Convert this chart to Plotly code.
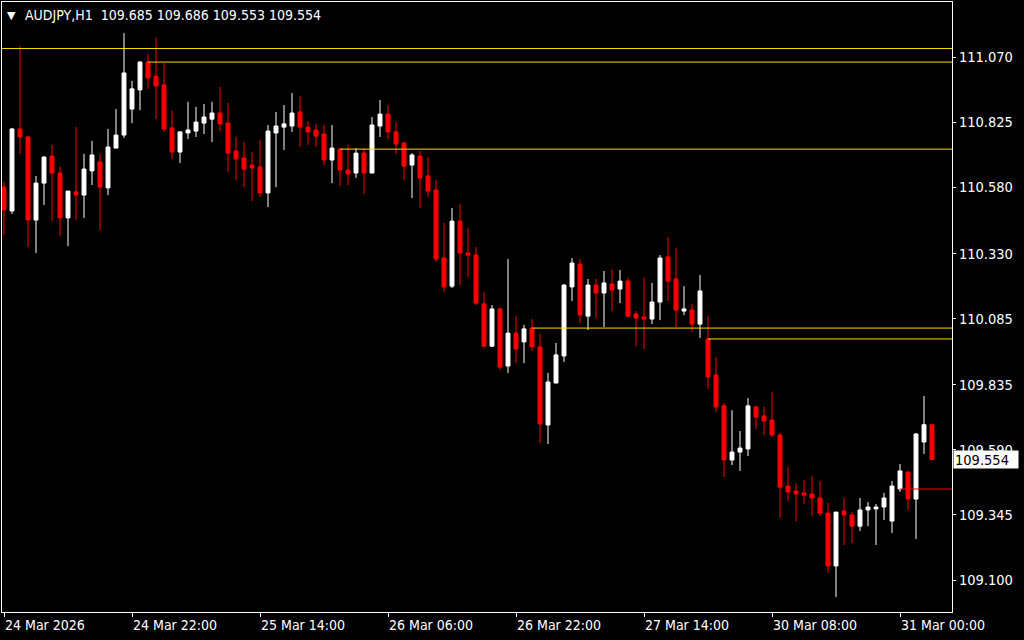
import plotly.graph_objects as go

# ---- data (AUDJPY H1), bar index 0 = 24 Mar 2026 06:00 ----
opens = [110.580, 110.490, 110.799, 110.769, 110.456, 110.595, 110.697, 110.633, 110.464, 110.562,
         110.550, 110.641, 110.675, 110.577, 110.727, 110.776, 110.874, 110.946, 111.051, 110.998,
         110.965, 110.803, 110.712, 110.784, 110.791, 110.821, 110.836, 110.859, 110.821, 110.716,
         110.690, 110.663, 110.656, 110.558, 110.784, 110.806, 110.810, 110.863, 110.806, 110.795,
         110.780, 110.682, 110.723, 110.644, 110.633, 110.708, 110.633, 110.810, 110.855, 110.788,
         110.746, 110.663, 110.697, 110.622, 110.569, 110.313, 110.207, 110.452, 110.332, 110.324,
         110.140, 109.981, 110.121, 109.906, 110.030, 109.997, 110.049, 109.978, 109.684, 109.842,
         109.944, 110.204, 110.290, 110.094, 110.211, 110.181, 110.215, 110.196, 110.226, 110.102,
         110.091, 110.083, 110.147, 110.317, 110.234, 110.113, 110.117, 110.064, 110.008, 109.872,
         109.756, 109.552, 109.582, 109.594, 109.752, 109.718, 109.703, 109.646, 109.454, 109.435,
         109.428, 109.424, 109.409, 109.352, 109.153, 109.360, 109.345, 109.303, 109.364, 109.368,
         109.375, 109.322, 109.443, 109.507, 109.405, 109.620, 109.685]
highs = [110.599, 110.803, 111.111, 110.772, 110.622, 110.697, 110.739, 110.656, 110.565, 110.806,
         110.705, 110.754, 110.705, 110.799, 110.874, 111.160, 110.980, 111.055, 111.081, 111.142,
         111.047, 110.867, 110.791, 110.901, 110.882, 110.893, 110.901, 110.957, 110.897, 110.769,
         110.750, 110.712, 110.757, 110.814, 110.863, 110.889, 110.934, 110.923, 110.829, 110.818,
         110.814, 110.814, 110.727, 110.739, 110.727, 110.727, 110.844, 110.908, 110.889, 110.825,
         110.750, 110.708, 110.716, 110.693, 110.607, 110.445, 110.501, 110.516, 110.426, 110.354,
         110.185, 110.136, 110.125, 110.309, 110.094, 110.061, 110.083, 110.027, 109.880, 109.993,
         110.215, 110.313, 110.309, 110.234, 110.234, 110.264, 110.271, 110.268, 110.238, 110.113,
         110.238, 110.219, 110.324, 110.392, 110.351, 110.207, 110.140, 110.249, 110.094, 109.940,
         109.767, 109.740, 109.661, 109.786, 109.756, 109.752, 109.808, 109.654, 109.526, 109.465,
         109.477, 109.492, 109.473, 109.390, 109.356, 109.409, 109.356, 109.409, 109.394, 109.386,
         109.428, 109.473, 109.537, 109.507, 109.654, 109.793, 109.686]
lows = [110.400, 110.479, 110.705, 110.354, 110.332, 110.513, 110.452, 110.396, 110.358, 110.456,
        110.464, 110.588, 110.418, 110.550, 110.727, 110.765, 110.821, 110.870, 110.950, 110.836,
        110.788, 110.686, 110.671, 110.761, 110.769, 110.780, 110.750, 110.791, 110.637, 110.607,
        110.580, 110.528, 110.543, 110.505, 110.580, 110.720, 110.788, 110.731, 110.739, 110.731,
        110.663, 110.595, 110.584, 110.588, 110.614, 110.554, 110.633, 110.769, 110.761, 110.705,
        110.607, 110.539, 110.501, 110.543, 110.298, 110.185, 110.200, 110.211, 110.241, 110.136,
        109.978, 109.978, 109.891, 109.880, 109.917, 109.917, 109.963, 109.616, 109.612, 109.842,
        109.921, 110.151, 110.068, 110.042, 110.087, 110.053, 110.113, 110.143, 110.091, 109.981,
        109.970, 110.064, 110.079, 110.151, 110.053, 110.098, 110.034, 110.012, 109.820, 109.733,
        109.488, 109.533, 109.511, 109.567, 109.669, 109.646, 109.639, 109.334, 109.398, 109.322,
        109.386, 109.341, 109.341, 109.127, 109.036, 109.232, 109.239, 109.285, 109.303, 109.232,
        109.326, 109.277, 109.432, 109.364, 109.255, 109.575, 109.553]
closes = [110.494, 110.799, 110.769, 110.456, 110.595, 110.693, 110.633, 110.464, 110.565, 110.550,
          110.648, 110.701, 110.580, 110.731, 110.776, 111.010, 110.950, 111.051, 110.991, 110.961,
          110.799, 110.712, 110.788, 110.795, 110.825, 110.844, 110.859, 110.818, 110.708, 110.686,
          110.648, 110.652, 110.558, 110.791, 110.810, 110.818, 110.859, 110.806, 110.788, 110.772,
          110.682, 110.727, 110.644, 110.629, 110.708, 110.633, 110.814, 110.855, 110.788, 110.742,
          110.659, 110.701, 110.614, 110.565, 110.309, 110.204, 110.452, 110.332, 110.324, 110.143,
          109.981, 110.121, 109.902, 110.030, 109.970, 110.046, 109.978, 109.688, 109.846, 109.948,
          110.211, 110.294, 110.098, 110.211, 110.181, 110.219, 110.192, 110.226, 110.094, 110.087,
          110.083, 110.147, 110.313, 110.226, 110.117, 110.121, 110.064, 110.189, 109.865, 109.752,
          109.552, 109.582, 109.597, 109.756, 109.714, 109.699, 109.646, 109.450, 109.432, 109.424,
          109.420, 109.409, 109.352, 109.153, 109.356, 109.345, 109.303, 109.364, 109.375, 109.375,
          109.409, 109.454, 109.511, 109.405, 109.650, 109.685, 109.554]
bars = list(range(len(opens)))

# daily open levels: (bar index where the day starts, price)
day_open_bars = [-6, 18, 42, 66, 88, 112]
day_open_prices = [111.102, 111.051, 110.723, 110.049, 110.008, 109.443]

x_tick_bars = [0, 16, 32, 48, 64, 80, 96, 112]
x_tick_text = ["24 Mar 2026", "24 Mar 22:00", "25 Mar 14:00", "26 Mar 06:00",
               "26 Mar 22:00", "27 Mar 14:00", "30 Mar 08:00", "31 Mar 00:00"]
y_ticks = [111.070, 110.825, 110.580, 110.330, 110.085, 109.835, 109.590, 109.345, 109.100]

symbol = "AUDJPY,H1"
last_bid = 109.554

FONT = "Liberation Sans Narrow, Arial Narrow, DejaVu Sans Condensed, sans-serif"
X_MIN, X_MAX = -0.25, 118.5
Y_MIN, Y_MAX = 108.9796, 111.2772

fig = go.Figure()
fig.add_trace(go.Candlestick(
    x=bars, open=opens, high=highs, low=lows, close=closes,
    increasing=dict(line=dict(color="#FFFFFF", width=1), fillcolor="#FFFFFF"),
    decreasing=dict(line=dict(color="#FF0000", width=1), fillcolor="#FF0000"),
    showlegend=False, hoverinfo="skip",
))

for i, (b, p) in enumerate(zip(day_open_bars, day_open_prices)):
    col = "#FF0000" if i == len(day_open_bars) - 1 else "#FFD700"
    fig.add_shape(type="line", xref="x", yref="y",
                  x0=max(b, X_MIN), x1=X_MAX, y0=p, y1=p,
                  line=dict(color=col, width=1), layer="above")

fig.add_annotation(xref="paper", yref="paper", x=0, y=1, xanchor="left", yanchor="top",
                   xshift=3, yshift=-5, text="▼", showarrow=False,
                   font=dict(family="DejaVu Sans", size=11, color="#FFFFFF"))
o, h, l, c = opens[-1], highs[-1], lows[-1], closes[-1]
fig.add_annotation(xref="paper", yref="paper", x=0, y=1, xanchor="left", yanchor="top",
                   xshift=21, yshift=-3,
                   text=f"{symbol}\u00a0\u00a0{o:.3f} {h:.3f} {l:.3f} {c:.3f}",
                   showarrow=False, font=dict(family=FONT, size=14, color="#FFFFFF"))

fig.add_annotation(xref="paper", yref="y", x=1, y=last_bid, xanchor="left", yanchor="middle",
                   xshift=1, text=f"{last_bid:.3f}", showarrow=False,
                   bgcolor="#FFFFFF", width=62, height=15, align="left",
                   font=dict(family=FONT, size=14.5, color="#000000"))

fig.update_layout(
    width=1024, height=640,
    margin=dict(l=2, r=72, t=2, b=28, pad=0, autoexpand=False),
    paper_bgcolor="#000000", plot_bgcolor="#000000",
    showlegend=False,
    xaxis=dict(range=[X_MIN, X_MAX], showgrid=False, zeroline=False,
               rangeslider=dict(visible=False), automargin=False,
               tickvals=x_tick_bars, ticktext=x_tick_text,
               ticks="outside", ticklen=4, tickcolor="#FFFFFF",
               ticklabelposition="outside right",
               tickfont=dict(family=FONT, size=14, color="#FFFFFF"),
               showline=True, linecolor="#FFFFFF", linewidth=1, mirror=True),
    yaxis=dict(range=[Y_MIN, Y_MAX], side="right", showgrid=False, zeroline=False,
               automargin=False,
               tickvals=y_ticks, ticktext=[f"{v:.3f}" for v in y_ticks],
               ticks="outside", ticklen=3, tickcolor="#FFFFFF",
               tickfont=dict(family=FONT, size=14.5, color="#FFFFFF"),
               showline=True, linecolor="#FFFFFF", linewidth=1, mirror=True),
)

fig.write_html("out.html", config={"displayModeBar": False},
               post_script="document.body.style.margin='0';document.body.style.overflow='hidden';")
